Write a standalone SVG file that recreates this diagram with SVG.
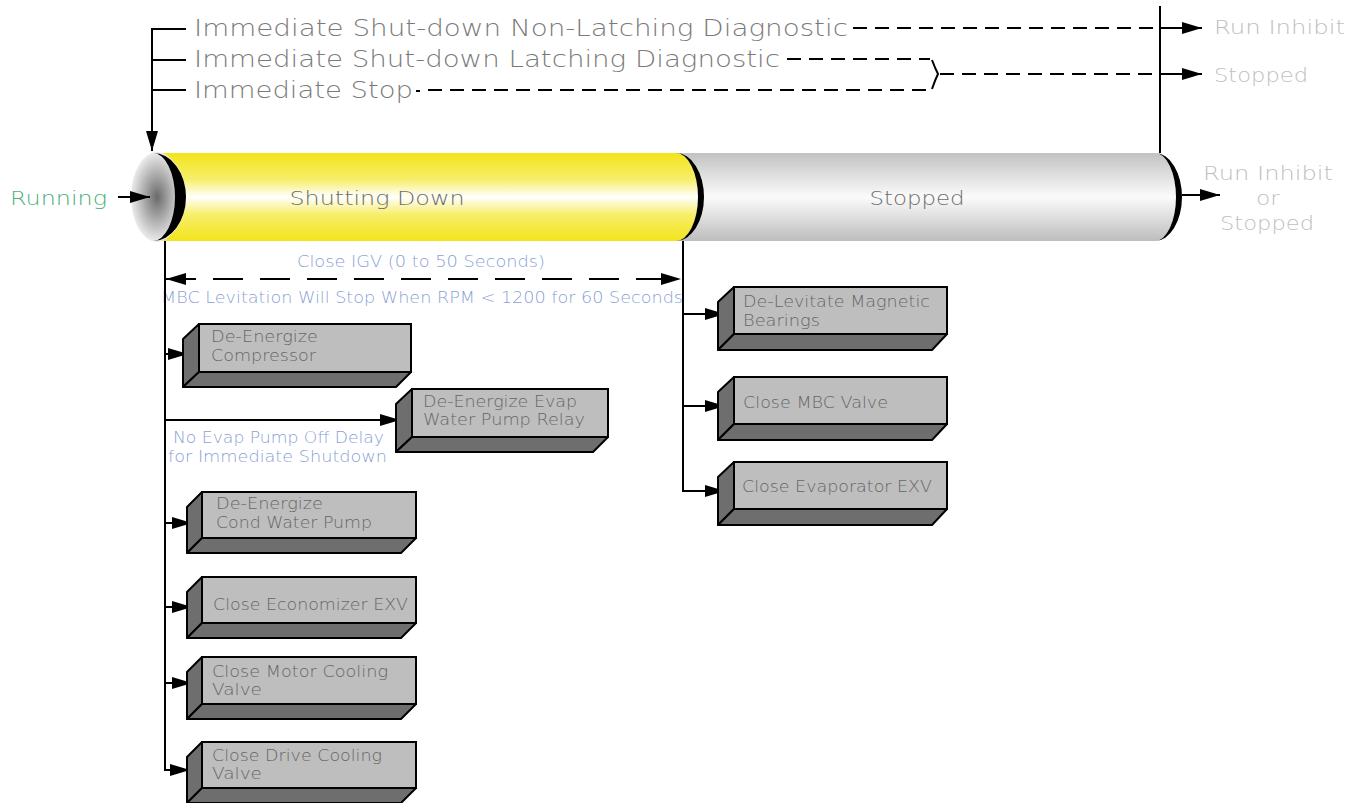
<svg xmlns="http://www.w3.org/2000/svg" width="1364" height="803" viewBox="0 0 1364 803">
<defs>
<linearGradient id="gy" x1="0" y1="0" x2="0" y2="1">
<stop offset="0" stop-color="#f3e41b"/><stop offset="0.3" stop-color="#f7ee6a"/><stop offset="0.5" stop-color="#ffffff"/><stop offset="0.7" stop-color="#f7ee6a"/><stop offset="1" stop-color="#f3e41b"/>
</linearGradient>
<linearGradient id="gg" x1="0" y1="0" x2="0" y2="1">
<stop offset="0" stop-color="#c2c2c2"/><stop offset="0.5" stop-color="#fbfbfb"/><stop offset="1" stop-color="#bdbdbd"/>
</linearGradient>
<radialGradient id="ge" cx="0.5" cy="0.5" r="0.5">
<stop offset="0" stop-color="#6a6a6a"/><stop offset="1" stop-color="#ececec"/>
</radialGradient>
<marker id="ah" markerUnits="userSpaceOnUse" markerWidth="20" markerHeight="12" viewBox="0 0 20 12" refX="20" refY="6" orient="auto-start-reverse">
<path d="M0,0 L20,6 L0,12 z" fill="#000"/>
</marker>
<style>
.ln{stroke:#000;stroke-width:2;fill:none}
.ds{stroke:#000;stroke-width:2;fill:none;stroke-dasharray:14 8}
.dl{stroke:#000;stroke-width:2;fill:none;stroke-dasharray:30 17}
.fr{fill:#bebebe;stroke:#000;stroke-width:2}
.sd{fill:#6e6e6e;stroke:#000;stroke-width:2;stroke-linejoin:round}
text{font-family:"DejaVu Sans","Liberation Sans",sans-serif;font-weight:200}
.tt{font-size:23px;fill:#7a7a7a}
.bx{font-size:15px;fill:#666}
.bl{font-size:15px;fill:#8b9fd6}
.cy{font-size:20px;fill:#6e6e6e}
.lg{font-size:20px;fill:#c0c0c0}
.gr{font-size:20px;fill:#4caf78}
</style>
</defs>

<g id="cylinder">
<path d="M676,153 L1155,153 A21 44 0 0 1 1155,241 L676,241 Z" fill="url(#gg)"/>
<path d="M155,153 L676,153 A22 44 0 0 1 676,241 L155,241 A31 44 0 0 0 155,153 Z" fill="url(#gy)"/>
<ellipse cx="157" cy="197" rx="26" ry="45" fill="url(#ge)"/>
<path d="M153,153 A33 44 0 0 1 153,241 A22 44 0 0 0 153,153 Z" fill="#000"/>
<path d="M676,153 A28 44 0 0 1 676,241 A22 44 0 0 0 676,153 Z" fill="#000"/>
<path d="M1155,153 A27 44 0 0 1 1155,241 A21 44 0 0 0 1155,153 Z" fill="#000"/>
<text class="cy" x="377" y="205" text-anchor="middle" textLength="175" lengthAdjust="spacingAndGlyphs">Shutting Down</text>
<text class="cy" x="917" y="205" text-anchor="middle" textLength="95" lengthAdjust="spacingAndGlyphs">Stopped</text>
</g>

<g id="labels">
<text class="gr" x="10" y="205" textLength="97" lengthAdjust="spacingAndGlyphs">Running</text>
<text class="tt" x="194" y="36" textLength="654" lengthAdjust="spacingAndGlyphs">Immediate Shut-down Non-Latching Diagnostic</text>
<text class="tt" x="194" y="67" textLength="586" lengthAdjust="spacingAndGlyphs">Immediate Shut-down Latching Diagnostic</text>
<text class="tt" x="194" y="98" textLength="219" lengthAdjust="spacingAndGlyphs">Immediate Stop</text>
<text class="lg" x="1214" y="34" textLength="131" lengthAdjust="spacingAndGlyphs">Run Inhibit</text>
<text class="lg" x="1214" y="82" textLength="94" lengthAdjust="spacingAndGlyphs">Stopped</text>
<text class="lg" x="1268" y="180" text-anchor="middle" textLength="130" lengthAdjust="spacingAndGlyphs">Run Inhibit</text>
<text class="lg" x="1268" y="205" text-anchor="middle" textLength="24" lengthAdjust="spacingAndGlyphs">or</text>
<text class="lg" x="1267" y="230" text-anchor="middle" textLength="94" lengthAdjust="spacingAndGlyphs">Stopped</text>
<text class="bl" x="421" y="267" text-anchor="middle" textLength="248" lengthAdjust="spacingAndGlyphs">Close IGV (0 to 50 Seconds)</text>
<text class="bl" x="161" y="303" textLength="522" lengthAdjust="spacingAndGlyphs">MBC Levitation Will Stop When RPM &lt; 1200 for 60 Seconds</text>
<text class="bl" x="173" y="443" textLength="211" lengthAdjust="spacingAndGlyphs">No Evap Pump Off Delay</text>
<text class="bl" x="168" y="462" textLength="219" lengthAdjust="spacingAndGlyphs">for Immediate Shutdown</text>
</g>

<g id="connectors">
<line class="ln" x1="118" y1="197" x2="150" y2="197" marker-end="url(#ah)"/>
<path class="ln" d="M186,29 H152 V151" marker-end="url(#ah)"/>
<line class="ln" x1="152" y1="60" x2="186" y2="60"/>
<line class="ln" x1="152" y1="90" x2="186" y2="90"/>
<line class="ds" x1="853" y1="28" x2="1159" y2="28"/>
<line class="ln" x1="1159" y1="28" x2="1202" y2="28" marker-end="url(#ah)"/>
<line class="ds" x1="787" y1="59" x2="930" y2="59"/>
<path class="ln" d="M416,91 H420"/>
<line class="ds" x1="428" y1="90" x2="930" y2="90"/>
<path class="ln" d="M932,60 Q935,68 938,74 Q935,80 932,89"/>
<line class="ds" x1="940" y1="74" x2="1159" y2="74"/>
<line class="ln" x1="1159" y1="74" x2="1202" y2="74" marker-end="url(#ah)"/>
<line class="ln" x1="1160" y1="6" x2="1160" y2="153"/>
<line class="ln" x1="1182" y1="195" x2="1220" y2="195" marker-end="url(#ah)"/>
<line class="dl" x1="166" y1="279" x2="681" y2="279" marker-start="url(#ah)" marker-end="url(#ah)"/>
<path class="ln" d="M165,241 V770 H190" marker-end="url(#ah)"/>
<line class="ln" x1="165" y1="354" x2="188" y2="354" marker-end="url(#ah)"/>
<line class="ln" x1="165" y1="420" x2="400" y2="420" marker-end="url(#ah)"/>
<line class="ln" x1="165" y1="523" x2="192" y2="523" marker-end="url(#ah)"/>
<line class="ln" x1="165" y1="607" x2="192" y2="607" marker-end="url(#ah)"/>
<line class="ln" x1="165" y1="683" x2="192" y2="683" marker-end="url(#ah)"/>
<path class="ln" d="M683,241 V491 H725" marker-end="url(#ah)"/>
<line class="ln" x1="683" y1="314" x2="725" y2="314" marker-end="url(#ah)"/>
<line class="ln" x1="683" y1="406" x2="725" y2="406" marker-end="url(#ah)"/>
</g>

<g id="box-compressor">
<polygon class="sd" points="199,324 183,339 183,387 199,372"/>
<polygon class="sd" points="199,372 183,387 396,387 411,372"/>
<rect class="fr" x="199" y="324" width="212" height="48"/>
<text class="bx" x="211" y="342" textLength="107" lengthAdjust="spacingAndGlyphs">De-Energize</text>
<text class="bx" x="211" y="361" textLength="105" lengthAdjust="spacingAndGlyphs">Compressor</text>
</g>
<g id="box-evap-relay">
<polygon class="sd" points="412,389 396,404 396,452 412,437"/>
<polygon class="sd" points="412,437 396,452 593,452 608,437"/>
<rect class="fr" x="412" y="389" width="196" height="48"/>
<text class="bx" x="423" y="407" textLength="154" lengthAdjust="spacingAndGlyphs">De-Energize Evap</text>
<text class="bx" x="423" y="425" textLength="162" lengthAdjust="spacingAndGlyphs">Water Pump Relay</text>
</g>
<g id="box-cond-pump">
<polygon class="sd" points="202,492 187,507 187,553 202,538"/>
<polygon class="sd" points="202,538 187,553 401,553 416,538"/>
<rect class="fr" x="202" y="492" width="214" height="46"/>
<text class="bx" x="216" y="509" textLength="107" lengthAdjust="spacingAndGlyphs">De-Energize</text>
<text class="bx" x="216" y="528" textLength="156" lengthAdjust="spacingAndGlyphs">Cond Water Pump</text>
</g>
<g id="box-economizer">
<polygon class="sd" points="202,577 187,592 187,638 202,623"/>
<polygon class="sd" points="202,623 187,638 401,638 416,623"/>
<rect class="fr" x="202" y="577" width="214" height="46"/>
<text class="bx" x="213" y="610" textLength="195" lengthAdjust="spacingAndGlyphs">Close Economizer EXV</text>
</g>
<g id="box-motor-cooling">
<polygon class="sd" points="202,657 187,672 187,719 202,704"/>
<polygon class="sd" points="202,704 187,719 401,719 416,704"/>
<rect class="fr" x="202" y="657" width="214" height="47"/>
<text class="bx" x="212" y="677" textLength="176" lengthAdjust="spacingAndGlyphs">Close Motor Cooling</text>
<text class="bx" x="212" y="695" textLength="50" lengthAdjust="spacingAndGlyphs">Valve</text>
</g>
<g id="box-drive-cooling">
<polygon class="sd" points="202,742 187,757 187,803 202,788"/>
<polygon class="sd" points="202,788 187,803 401,803 416,788"/>
<rect class="fr" x="202" y="742" width="214" height="46"/>
<text class="bx" x="212" y="761" textLength="170" lengthAdjust="spacingAndGlyphs">Close Drive Cooling</text>
<text class="bx" x="212" y="779" textLength="50" lengthAdjust="spacingAndGlyphs">Valve</text>
</g>
<g id="box-delevitate">
<polygon class="sd" points="734,287 718,302 718,350 734,334"/>
<polygon class="sd" points="734,334 718,350 932,350 947,334"/>
<rect class="fr" x="734" y="287" width="213" height="47"/>
<text class="bx" x="743" y="307" textLength="187" lengthAdjust="spacingAndGlyphs">De-Levitate Magnetic</text>
<text class="bx" x="743" y="326" textLength="77" lengthAdjust="spacingAndGlyphs">Bearings</text>
</g>
<g id="box-mbc-valve">
<polygon class="sd" points="734,377 718,392 718,440 734,424"/>
<polygon class="sd" points="734,424 718,440 932,440 947,424"/>
<rect class="fr" x="734" y="377" width="213" height="47"/>
<text class="bx" x="743" y="408" textLength="145" lengthAdjust="spacingAndGlyphs">Close MBC Valve</text>
</g>
<g id="box-evap-exv">
<polygon class="sd" points="734,462 718,477 718,525 734,509"/>
<polygon class="sd" points="734,509 718,525 932,525 947,509"/>
<rect class="fr" x="734" y="462" width="213" height="47"/>
<text class="bx" x="742" y="492" textLength="190" lengthAdjust="spacingAndGlyphs">Close Evaporator EXV</text>
</g>
</svg>
